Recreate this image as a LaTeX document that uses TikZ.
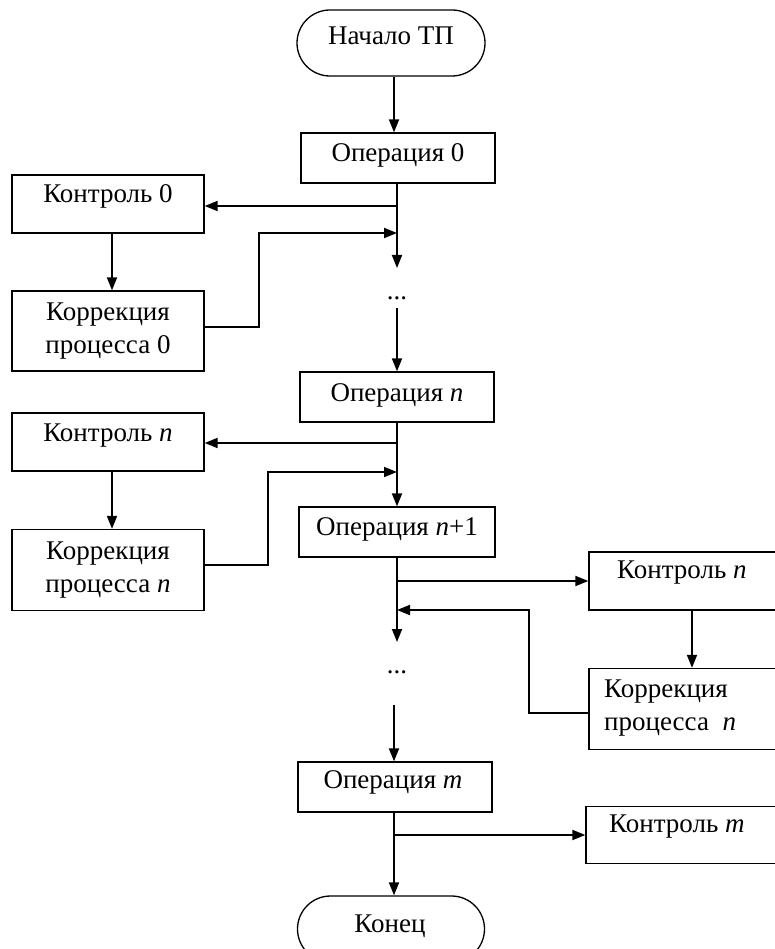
\documentclass[tikz,border=0pt]{standalone}
\usepackage{fontspec}
\setmainfont{Liberation Serif}
\usetikzlibrary{arrows.meta}
\begin{document}
\begin{tikzpicture}[x=1pt,y=-1pt,
  box/.style={draw, line width=1.3pt, rectangle, inner sep=0pt, minimum width=#1},
  box/.default=194pt,
  term/.style={draw, line width=1.3pt, rectangle, rounded corners=33pt, inner sep=0pt,
    minimum width=188pt, minimum height=66pt},
  lbl/.style={anchor=base, inner sep=0pt, font=\fontsize{27}{33}\selectfont, align=center},
  lbll/.style={lbl, anchor=base west, align=left},
  flow/.style={line width=1.8pt, -{Triangle[length=13pt,width=10pt]}}]
\useasboundingbox (0,0) rectangle (775,949);

% terminals and process boxes
\node[term] (start) at (391,43) {};
\node[box, minimum height=50pt] (op0) at (398,158) {};
\node[box=192pt, minimum height=58pt] (k0) at (108,204) {};
\node[box=192pt, minimum height=80pt] (c0) at (108,331) {};
\node[box, minimum height=50pt] (opn) at (397,397) {};
\node[box=192pt, minimum height=58pt] (kn) at (108,442) {};
\node[box=192pt, minimum height=81pt] (cn) at (108,570) {};
\node[box=196pt, minimum height=50pt] (opn1) at (397,532) {};
\node[box, minimum height=58pt] (kr) at (686,581) {};
\node[box, minimum height=81pt] (cr) at (686,709) {};
\node[box, minimum height=50pt] (opm) at (395,787) {};
\node[box, minimum height=57pt] (km) at (683,835) {};
\node[term, minimum width=187pt] (end) at (391,929) {};

% labels (two-line labels are placed by the baseline of their last line)
\node[lbl] (tstart) at (391,45) {Начало ТП};
\node[lbl] (top0) at (398,162) {Операция 0};
\node[lbl] (tk0) at (108,203) {Контроль 0};
\node[lbl] (tc0) at (108,353) {Коррекция\\процесса 0};
\node[lbl] (dots1) at (397,299) {...};
\node[lbl] (topn) at (397,401) {Операция \textit{n}};
\node[lbl] (tkn) at (108,441) {Контроль \textit{n}};
\node[lbl] (tcn) at (108,592) {Коррекция\\процесса \textit{n}};
\node[lbl] (topn1) at (397,535) {Операция \textit{n}+1};
\node[lbll] (tkr) at (617,578) {Контроль \textit{n}};
\node[lbll] (tcr) at (604,730) {Коррекция\\процесса\ \ \textit{n}};
\node[lbl] (dots2) at (397,673) {...};
\node[lbl] (topm) at (393,788) {Операция \textit{m}};
\node[lbll] (tkm) at (609,832) {Контроль \textit{m}};
\node[lbl] (tend) at (390,932) {Конец};

% junction points on the main line
\coordinate (j0) at (397,206);
\coordinate (f0) at (397,233);
\coordinate (d1t) at (397,268);
\coordinate (d1b) at (397,308);
\coordinate (jn) at (397,443);
\coordinate (fn) at (397,472);
\coordinate (jr) at (397,581);
\coordinate (fr) at (397,610);
\coordinate (d2t) at (397,642);
\coordinate (d2b) at (394,705);
\coordinate (jm) at (394,835);

% main flow
\draw[flow] (start.south -| 394,0) -- (op0.north -| 394,0);
\draw[flow] (op0.south -| j0) -- (d1t);
\draw[flow] (d1b) -- (opn.north -| d1b);
\draw[flow] (opn.south -| jn) -- (opn1.north -| jn);
\draw[flow] (opn1.south -| jr) -- (d2t);
\draw[flow] (d2b) -- (opm.north -| d2b);
\draw[flow] (opm.south -| jm) -- (end.north -| jm);

% control and correction loops, left side
\draw[flow] (j0) -- (k0.east |- j0);
\draw[flow] (k0.south -| 112,0) -- (c0.north -| 112,0);
\draw[flow] (c0.east |- 0,327) -| (259,233) -- (f0);
\draw[flow] (jn) -- (kn.east |- jn);
\draw[flow] (kn.south -| 112,0) -- (cn.north -| 112,0);
\draw[flow] (cn.east |- 0,565) -| (268,472) -- (fn);

% control and correction loop, right side
\draw[flow] (jr) -- (kr.west |- jr);
\draw[flow] (kr.south -| 692,0) -- (cr.north -| 692,0);
\draw[flow] (cr.west |- 0,713) -| (529,610) -- (fr);
\draw[flow] (jm) -- (km.west |- jm);
\end{tikzpicture}
\end{document}
